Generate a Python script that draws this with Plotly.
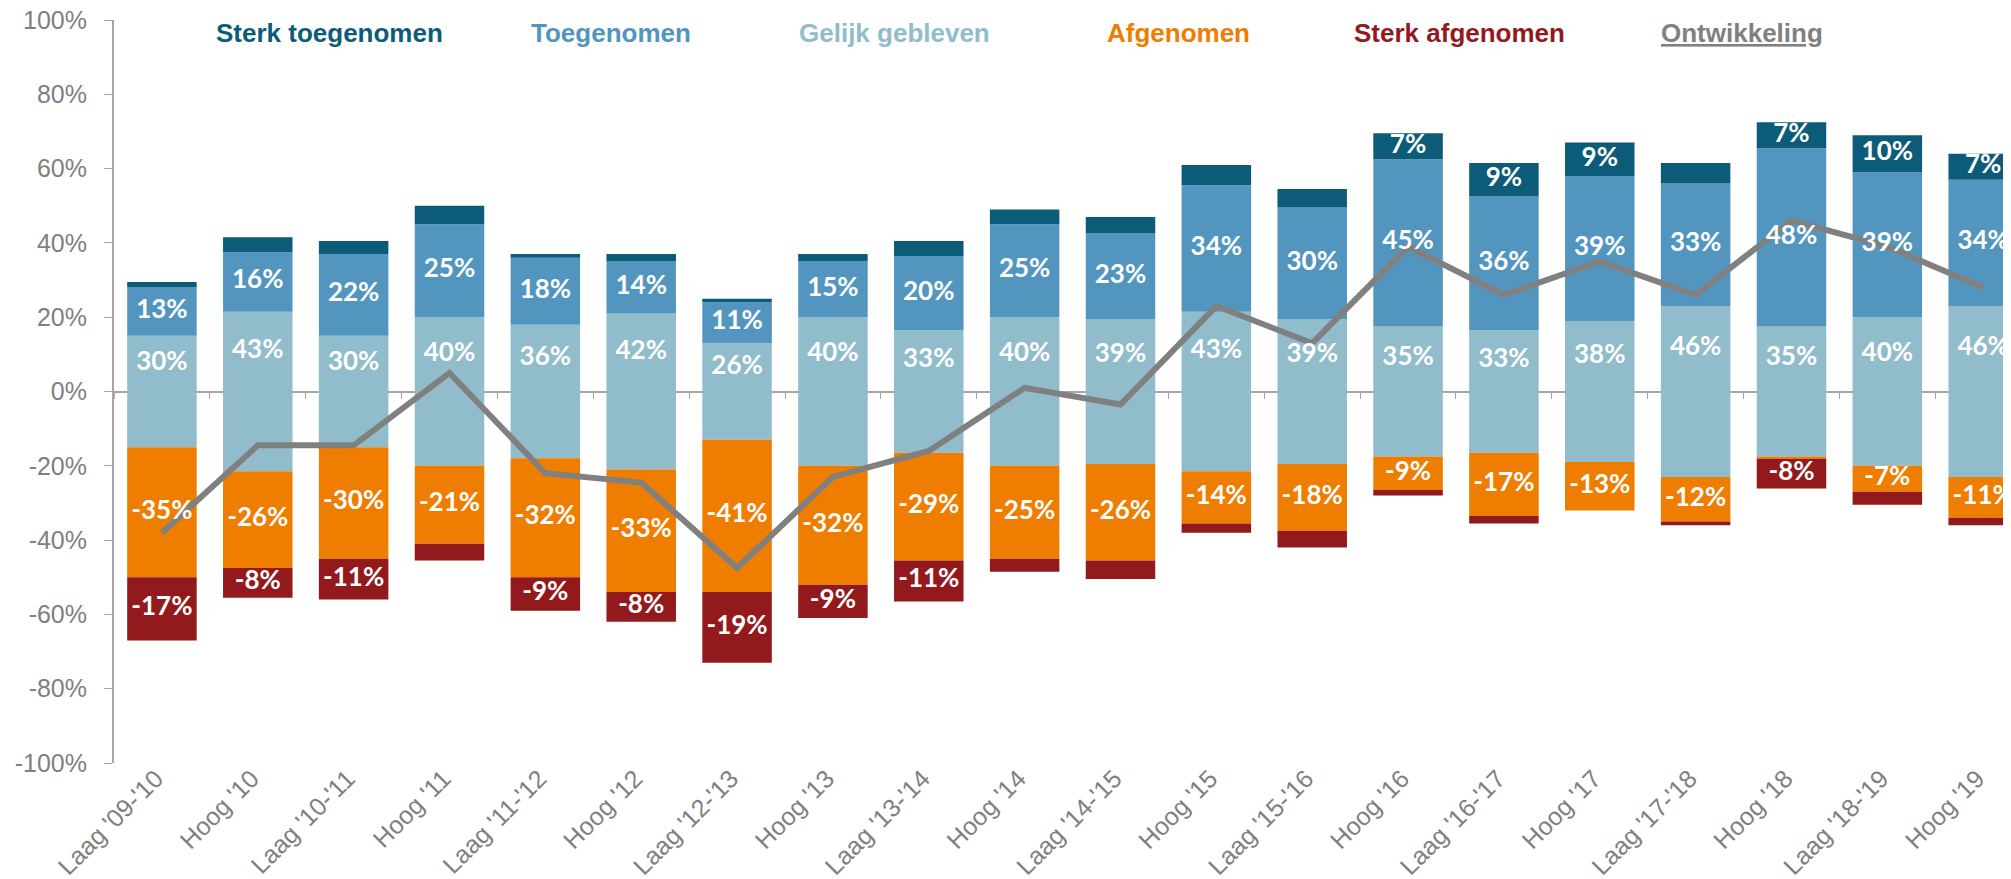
import plotly.graph_objects as go

# Ontwikkeling per meting (aandeel respondenten, in %)
kategorien = ["Laag '09-'10", "Hoog '10", "Laag '10-'11", "Hoog '11", "Laag '11-'12", "Hoog '12",
              "Laag '12-'13", "Hoog '13", "Laag '13-'14", "Hoog '14", "Laag '14-'15", "Hoog '15",
              "Laag '15-'16", "Hoog '16", "Laag '16-'17", "Hoog '17", "Laag '17-'18", "Hoog '18",
              "Laag '18-'19", "Hoog '19"]

sterk_toegenomen = [1.5, 4, 3.5, 5, 1, 2, 1, 2, 4, 4, 4.5, 5.5, 5, 7, 9, 9, 5.5, 7, 10, 7]
toegenomen = [13, 16, 22, 25, 18, 14, 11, 15, 20, 25, 23, 34, 30, 45, 36, 39, 33, 48, 39, 34]
gelijk_gebleven = [30, 43, 30, 40, 36, 42, 26, 40, 33, 40, 39, 43, 39, 35, 33, 38, 46, 35, 40, 46]
afgenomen = [35, 26, 30, 21, 32, 33, 41, 32, 29, 25, 26, 14, 18, 9, 17, 13, 12, 0.6, 7, 11]
sterk_afgenomen = [17, 8, 11, 4.5, 9, 8, 19, 9, 11, 3.5, 5, 2.5, 4.5, 1.5, 2, 0, 1, 8, 3.5, 2]
ontwikkeling = [-38, -14.5, -14.5, 5, -22, -24.5, -47.5, -23, -16, 1, -3.5, 23, 13, 39, 26, 35, 26, 46, 39, 28]

y_ticks = [-100, -80, -60, -40, -20, 0, 20, 40, 60, 80, 100]

kleur_sterk_toe = "#0C5C79"
kleur_toe = "#5296C0"
kleur_gelijk = "#90BCCB"
kleur_af = "#EE7D00"
kleur_sterk_af = "#921A1D"
kleur_lijn = "#808080"
grijs_as = "#A6A6A6"

fig = go.Figure()


def segment(y, kleur, naam):
    fig.add_trace(go.Bar(
        x=kategorien, y=y, name=naam, marker_color=kleur, marker_line_width=0,
        showlegend=False,
    ))


# boven de nullijn
segment([g / 2 for g in gelijk_gebleven], kleur_gelijk, "Gelijk gebleven")
segment(toegenomen, kleur_toe, "Toegenomen")
segment(sterk_toegenomen, kleur_sterk_toe, "Sterk toegenomen")
# onder de nullijn
segment([-g / 2 for g in gelijk_gebleven], kleur_gelijk, "Gelijk gebleven")
segment([-v for v in afgenomen], kleur_af, "Afgenomen")
segment([-v for v in sterk_afgenomen], kleur_sterk_af, "Sterk afgenomen")

idx = list(range(len(kategorien)))

fig.add_trace(go.Scatter(
    x=idx, y=ontwikkeling, xaxis="x2", mode="lines",
    line=dict(color=kleur_lijn, width=6), name="Ontwikkeling", showlegend=False,
))

# datalabels boven de lijn (midden van elk segment, kleine segmenten zonder label)
lx, ly, lt = [], [], []
for i in idx:
    g, t, st = gelijk_gebleven[i], toegenomen[i], sterk_toegenomen[i]
    a, sa = afgenomen[i], sterk_afgenomen[i]
    segs = [
        (g / 4, g, ""),
        (g / 2 + t / 2, t, ""),
        (g / 2 + t + st / 2, st, ""),
        (-(g / 2 + a / 2), a, "-"),
        (-(g / 2 + a + sa / 2), sa, "-"),
    ]
    for k, (midden, v, teken) in enumerate(segs):
        if k < 2 or v >= 6.5:
            lx.append(i)
            ly.append(midden)
            lt.append(f"{teken}{v:g}%")

fig.add_trace(go.Scatter(
    x=lx, y=ly, text=lt, xaxis="x2", mode="text", textposition="middle center",
    textfont=dict(family="Lato", size=26, color="white", weight="bold"),
    showlegend=False, hoverinfo="skip",
))

x_bereik = [-0.5, 19.29]

# de pagina heeft 8px body-marge, dus figuur 8px kleiner en marges 8px minder
fig.update_layout(
    width=2003, height=871,
    margin=dict(l=106, r=0, t=12, b=116, autoexpand=False),
    plot_bgcolor="white", paper_bgcolor="white",
    barmode="relative", bargap=0.275,
    xaxis=dict(
        type="category", range=x_bereik, showline=False, showgrid=False, ticks="",
        tickangle=-45, tickfont=dict(family="Liberation Sans", size=25, color="#808080"),
        ticklabelstandoff=-5, ticklabelshift=-6, ticklabeloverflow="allow",
    ),
    xaxis2=dict(
        overlaying="x", anchor="free", position=0.5, range=x_bereik,
        showline=True, linecolor=grijs_as, linewidth=2, showgrid=False,
        ticks="outside", tickmode="linear", tick0=0.5, dtick=1, ticklen=6,
        tickcolor=grijs_as, tickwidth=1, showticklabels=False, zeroline=False,
        layer="below traces",
    ),
    yaxis=dict(
        range=[-100, 100], tickvals=y_ticks, ticktext=[f"{v}%" for v in y_ticks],
        showline=True, linecolor=grijs_as, linewidth=2, ticks="outside", ticklen=8,
        tickcolor=grijs_as, showgrid=False, zeroline=False,
        tickfont=dict(family="Liberation Sans", size=25, color="#808080"),
        ticklabelstandoff=12, ticklabeloverflow="allow",
    ),
)

# legenda als gekleurde tekst bovenin (posities in pixels van het venster)
legenda = [
    ("Sterk toegenomen", kleur_sterk_toe, 214),
    ("Toegenomen", kleur_toe, 529),
    ("Gelijk gebleven", kleur_gelijk, 797),
    ("Afgenomen", kleur_af, 1105),
    ("Sterk afgenomen", kleur_sterk_af, 1352),
    ("<u>Ontwikkeling</u>", kleur_lijn, 1659),
]
for tekst, kleur, px in legenda:
    fig.add_annotation(
        text=f"<b>{tekst}</b>", xref="paper", yref="paper",
        x=(px - 114) / 1897, y=(763 - 33) / 743, xanchor="left", yanchor="middle",
        showarrow=False, font=dict(family="Liberation Sans", size=26, color=kleur),
    )

fig.write_html("out.html")
